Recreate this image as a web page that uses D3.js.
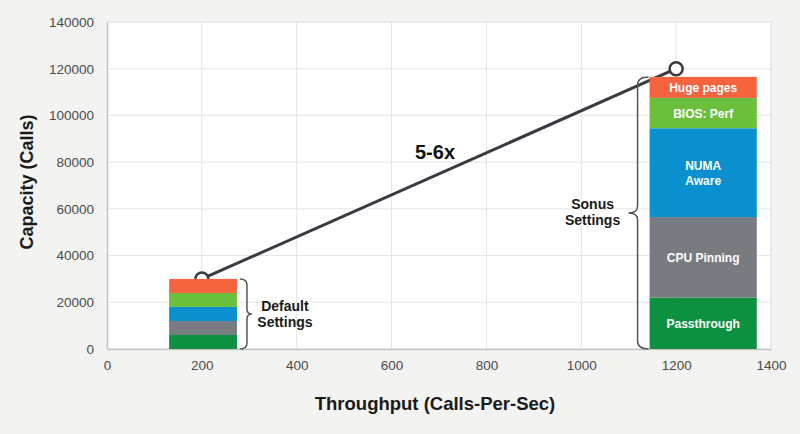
<!DOCTYPE html>
<html><head><meta charset="utf-8">
<script src="https://cdn.jsdelivr.net/npm/d3@7"></script>
<style>body{margin:0;background:#f3f3f1;} svg{display:block;font-family:"Liberation Sans",Arial,sans-serif;}</style>
</head><body>
<svg id="c" width="800" height="434"></svg>
<script>
// ---- data ----
const segments = ["Passthrough", "CPU Pinning", "NUMA Aware", "BIOS: Perf", "Huge pages"];
const segmentLabelLines = [["Passthrough"], ["CPU Pinning"], ["NUMA", "Aware"], ["BIOS: Perf"], ["Huge pages"]];
const groupNames = [["Default", "Settings"], ["Sonus", "Settings"]];
const groupThroughput = [200, 1200];
const groupCapacity = [30000, 120000];
const defaultValues = [6000, 6000, 6000, 6000, 6000];
const sonusValues = [22000, 34500, 38000, 13000, 9000];
const barStartX = [131, 1144];
const barEndX = [274, 1370];
const xTicks = [0, 200, 400, 600, 800, 1000, 1200, 1400];
const yTicks = [0, 20000, 40000, 60000, 80000, 100000, 120000, 140000];
const ratioLabel = "5-6x";
const xTitle = "Throughput (Calls-Per-Sec)";
const yTitle = "Capacity (Calls)";

// ---- styles ----
const colors = d3.scaleOrdinal().domain(segments)
  .range(["#0c9140", "#787b7f", "#0a8fcf", "#6bbf3c", "#f5633f"]);

const svg = d3.select("#c");
const x = d3.scaleLinear().domain([0, 1400]).range([107, 771]);
const y = d3.scaleLinear().domain([0, 140000]).range([349, 22]);

// plot background
svg.append("rect").attr("x", x(0)).attr("y", y(140000))
  .attr("width", x(1400) - x(0)).attr("height", y(0) - y(140000))
  .attr("fill", "#fff").attr("stroke", "#ebebeb").attr("stroke-width", 1);

// grid
svg.append("g").selectAll("line").data(xTicks.slice(1)).join("line")
  .attr("x1", d => x(d)).attr("x2", d => x(d)).attr("y1", y(0)).attr("y2", y(140000))
  .attr("stroke", "#e4e4e4").attr("stroke-width", 1);
svg.append("g").selectAll("line").data(yTicks.slice(1)).join("line")
  .attr("x1", x(0)).attr("x2", x(1400)).attr("y1", d => y(d)).attr("y2", d => y(d))
  .attr("stroke", "#e4e4e4").attr("stroke-width", 1);

// axes
const ax = svg.append("g").attr("transform", `translate(0,${y(0)})`)
  .call(d3.axisBottom(x).tickValues(xTicks).tickSize(0).tickPadding(11).tickFormat(d3.format("d")));
const ay = svg.append("g").attr("transform", `translate(${x(0)},0)`)
  .call(d3.axisLeft(y).tickValues(yTicks).tickSize(0).tickPadding(13).tickFormat(d3.format("d")));
[ax, ay].forEach(g => {
  g.select(".domain").attr("stroke", "#c4c4c4").attr("stroke-width", 1.5);
  g.selectAll("text").attr("font-size", 13.5).attr("fill", "#4a4a4a")
    .attr("font-family", "Liberation Sans, Arial, sans-serif");
});

// trend line + markers
const lineData = groupThroughput.map((t, i) => [t, groupCapacity[i]]);
svg.append("path").datum(lineData)
  .attr("d", d3.line().x(d => x(d[0])).y(d => y(d[1])))
  .attr("stroke", "#3a3a42").attr("stroke-width", 3).attr("fill", "none");
svg.append("g").selectAll("circle").data(lineData).join("circle")
  .attr("cx", d => x(d[0])).attr("cy", d => y(d[1])).attr("r", 6.5)
  .attr("fill", "#fff").attr("stroke", "#3a3a42").attr("stroke-width", 2.5);

// stacked bars
const allValues = [defaultValues, sonusValues];
allValues.forEach((vals, gi) => {
  let acc = 0;
  const stack = vals.map((v, i) => { const s = { key: segments[i], lines: segmentLabelLines[i], y0: acc, y1: acc + v }; acc += v; return s; });
  const g = svg.append("g");
  g.selectAll("rect").data(stack).join("rect")
    .attr("x", x(barStartX[gi])).attr("width", x(barEndX[gi]) - x(barStartX[gi]))
    .attr("y", d => y(d.y1)).attr("height", d => y(d.y0) - y(d.y1))
    .attr("fill", d => colors(d.key));
  if (gi === 1) {
    const cx = (x(barStartX[gi]) + x(barEndX[gi])) / 2;
    stack.forEach(d => {
      const cy = (y(d.y0) + y(d.y1)) / 2;
      const n = d.lines.length;
      d.lines.forEach((ln, li) => {
        g.append("text").attr("x", cx).attr("y", cy + (li - (n - 1) / 2) * 15 + 4.5)
          .attr("text-anchor", "middle").attr("font-size", 12).attr("font-weight", "bold")
          .attr("fill", "#fff").text(ln);
      });
    });
  }
  // brace
  const top = y(acc), bot = y(0);
  const mid = (top + bot) / 2;
  let p, tx;
  if (gi === 0) {
    const bx = x(barEndX[gi]) + 10, ex = bx - 7, tip = bx + 5;
    p = `M${ex},${top} Q${bx},${top} ${bx},${top + 6} L${bx},${mid - 5} Q${bx},${mid} ${tip},${mid} Q${bx},${mid} ${bx},${mid + 5} L${bx},${bot - 6} Q${bx},${bot} ${ex},${bot}`;
    tx = bx + 38;
  } else {
    const bx = x(barStartX[gi]) - 12, ex = bx + 11, tip = bx - 9;
    p = `M${ex},${top} Q${bx},${top} ${bx},${top + 8} L${bx},${mid - 7} Q${bx},${mid} ${tip},${mid} Q${bx},${mid} ${bx},${mid + 7} L${bx},${bot - 8} Q${bx},${bot} ${ex},${bot}`;
    tx = bx - 45;
  }
  svg.append("path").attr("d", p).attr("fill", "none").attr("stroke", "#555").attr("stroke-width", 1.5);
  groupNames[gi].forEach((ln, li) => {
    svg.append("text").attr("x", tx).attr("y", (gi === 0 ? mid - 3 : mid - 4) + li * 16)
      .attr("text-anchor", "middle").attr("font-size", 14).attr("font-weight", "bold")
      .attr("fill", "#1a1a1a").text(ln);
  });
});

// ratio label
svg.append("text").attr("x", 435).attr("y", 159).attr("text-anchor", "middle")
  .attr("font-size", 20).attr("font-weight", "bold").attr("fill", "#111").text(ratioLabel);

// axis titles
svg.append("text").attr("x", 435).attr("y", 410).attr("text-anchor", "middle")
  .attr("font-size", 18.5).attr("font-weight", "bold").attr("fill", "#1a1a1a").text(xTitle);
svg.append("text").attr("transform", "translate(33,182) rotate(-90)").attr("text-anchor", "middle")
  .attr("font-size", 18).attr("font-weight", "bold").attr("fill", "#1a1a1a").text(yTitle);
</script>
</body></html>
